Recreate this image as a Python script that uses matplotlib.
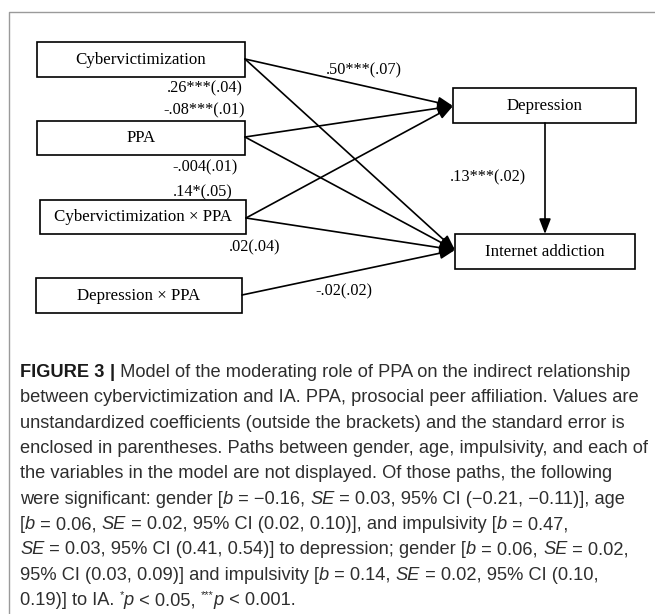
import matplotlib
matplotlib.use('Agg')
import matplotlib.pyplot as plt
from matplotlib.patches import Rectangle, FancyArrowPatch

# node labels
nodes = ['Cybervictimization', 'PPA', 'Cybervictimization \u00d7 PPA',
         'Depression \u00d7 PPA', 'Depression', 'Internet addiction']

# paths: (from, to, coefficient label)
paths = [
    ('Cybervictimization', 'Depression', '.50***(.07)'),
    ('Cybervictimization', 'Internet addiction', '.26***(.04)'),
    ('PPA', 'Depression', '-.08***(.01)'),
    ('PPA', 'Internet addiction', '-.004(.01)'),
    ('Cybervictimization \u00d7 PPA', 'Depression', '.14*(.05)'),
    ('Cybervictimization \u00d7 PPA', 'Internet addiction', '.02(.04)'),
    ('Depression \u00d7 PPA', 'Internet addiction', '-.02(.02)'),
    ('Depression', 'Internet addiction', '.13***(.02)'),
]

# caption lines as runs of (text, style)
caption = [
    [('FIGURE 3', 'b'), (' ', 'n'), ('|', 'b'), (' Model of the moderating role of PPA on the indirect relationship', 'n')],
    [('between cybervictimization and IA. PPA, prosocial peer affiliation. Values are', 'n')],
    [('unstandardized coefficients (outside the brackets) and the standard error is', 'n')],
    [('enclosed in parentheses. Paths between gender, age, impulsivity, and each of', 'n')],
    [('the variables in the model are not displayed. Of those paths, the following', 'n')],
    [('were significant: gender [', 'n'), ('b', 'i'), (' = \u22120.16, ', 'n'), ('SE', 'i'),
     (' = 0.03, 95% CI (\u22120.21, \u22120.11)], age', 'n')],
    [('[', 'n'), ('b', 'i'), (' = 0.06, ', 'n'), ('SE', 'i'), (' = 0.02, 95% CI (0.02, 0.10)], and impulsivity [', 'n'),
     ('b', 'i'), (' = 0.47,', 'n')],
    [('SE', 'i'), (' = 0.03, 95% CI (0.41, 0.54)] to depression; gender [', 'n'), ('b', 'i'), (' = 0.06, ', 'n'),
     ('SE', 'i'), (' = 0.02,', 'n')],
    [('95% CI (0.03, 0.09)] and impulsivity [', 'n'), ('b', 'i'), (' = 0.14, ', 'n'), ('SE', 'i'),
     (' = 0.02, 95% CI (0.10,', 'n')],
    [('0.19)] to IA. ', 'n'), ('*', 'sup'), ('p', 'i'), (' < 0.05, ', 'n'), ('***', 'sup'), ('p', 'i'),
     (' < 0.001.', 'n')],
]

# layout (pixel coords, y down)
box = {
    'Cybervictimization': (37, 42, 208, 35),
    'PPA': (37, 121, 208, 34),
    'Cybervictimization \u00d7 PPA': (40, 200, 206, 34),
    'Depression \u00d7 PPA': (36, 278, 206, 35),
    'Depression': (453, 88, 183, 35),
    'Internet addiction': (455, 234, 180, 35),
}
start = {
    'Cybervictimization': (245, 59),
    'PPA': (245, 137),
    'Cybervictimization \u00d7 PPA': (246, 218),
    'Depression \u00d7 PPA': (242, 295),
}
label_pos = [(364, 70), (205, 88), (204, 110), (205, 167), (203, 192), (255, 247), (344, 291), (488, 177)]

W, H = 655, 614
fig = plt.figure(figsize=(W / 100, H / 100), dpi=100)
ax = fig.add_axes([0, 0, 1, 1])
ax.set_xlim(0, W)
ax.set_ylim(H, 0)
ax.axis('off')

# outer frame
ax.plot([9, 9, W], [H, 12, 12], color='#9a9a9a', lw=1.0)

serif = 'Liberation Serif'
for name in nodes:
    x, y, w, h = box[name]
    ax.add_patch(Rectangle((x, y), w, h, fill=False, ec='black', lw=1.2))
    ax.text(x + w / 2, y + h / 2, name, ha='center', va='center', family=serif, fontsize=12.2)

for (src, dst, lab), (lx, ly) in zip(paths, label_pos):
    if src == 'Depression':
        p0 = (545, 123)
        p1 = (545, 234)
    else:
        p0 = start[src]
        p1 = (453, 106) if dst == 'Depression' else (455, 250)
    ax.add_patch(FancyArrowPatch(p0, p1, arrowstyle='-|>,head_length=7,head_width=2.7',
                                 color='black', lw=1.2, shrinkA=0, shrinkB=0, mutation_scale=1.3))
    ax.text(lx, ly, lab, ha='center', va='center', family=serif, fontsize=11.7)

# caption
fig.canvas.draw()
renderer = fig.canvas.get_renderer()
sans = 'Liberation Sans'


def style_kw(style, size):
    kw = dict(family=sans, fontsize=size, color='#2e2e2e')
    if style == 'b':
        kw.update(weight='bold', color='#1a1a1a')
    elif style == 'i':
        kw.update(style='italic')
    elif style == 'sup':
        kw.update(fontsize=size * 0.6)
    return kw


def adv(s, kw):
    t = ax.text(0, 0, s + '|', **kw)
    w1 = t.get_window_extent(renderer).width
    t.remove()
    t = ax.text(0, 0, '|', **kw)
    w2 = t.get_window_extent(renderer).width
    t.remove()
    return w1 - w2


def line_width(runs, size):
    return sum(adv(s, style_kw(st, size)) for s, st in runs)


size = 12.0
k1 = 618 / line_width(caption[0], size)
k4 = 625 / line_width(caption[3], size)
size = size * (k1 + k4) / 2

for i, runs in enumerate(caption):
    x = 20
    y = 376.7 + i * 25.4
    for s, st in runs:
        kw = style_kw(st, size)
        yy = y - size * 0.55 if st == 'sup' else y
        ax.text(x, yy, s, ha='left', va='baseline', **kw)
        x += adv(s, kw)

fig.savefig('out.png', dpi=100)
